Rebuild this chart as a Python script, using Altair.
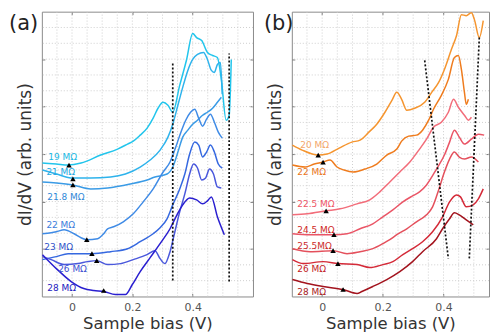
import altair as alt
import pandas as pd

FONT = "DejaVu Sans"

# ---------------- Panel (a) ----------------
A_NAMES = ["19 MΩ", "21 MΩ", "21.8 MΩ", "22 MΩ", "23 MΩ", "26 MΩ", "28 MΩ"]
A_LINE_COLORS = ["#22c5ec", "#2eb3ec", "#3a9be6", "#3f8be6", "#3568e0", "#4a58dc", "#2a1fd0"]
A_LABEL_COLORS = ["#20b8e4", "#22a8e2", "#2f88d8", "#3a7cdc", "#2e50c8", "#3b4dd0", "#2420c0"]

A19_V = [-0.098, -0.052, -0.013, 0.030, 0.095, 0.151, 0.184, 0.203, 0.226, 0.249, 0.269, 0.285, 0.302, 0.318,
         0.334, 0.357, 0.380, 0.400, 0.413, 0.430, 0.449, 0.466, 0.482, 0.495, 0.511, 0.521, 0.528]
A19_Y = [134, 133, 132, 134, 142, 148, 153, 156, 162, 169, 179, 189, 195, 192,
         185, 212, 238, 264, 260, 257, 245, 242, 240, 218, 177, 182, 238]
A21_V = [-0.098, -0.052, -0.003, 0.062, 0.128, 0.177, 0.226, 0.259, 0.292, 0.318, 0.334, 0.351, 0.367, 0.384,
         0.400, 0.416, 0.436, 0.449, 0.462, 0.472, 0.482, 0.492, 0.498]
A21_Y = [127, 123, 119, 119, 120, 123, 130, 137, 147, 160, 173, 192, 210, 227,
         238, 243, 245, 238, 227, 225, 233, 235, 203]
A218_V = [-0.098, -0.052, 0.003, 0.062, 0.118, 0.193, 0.249, 0.275, 0.315, 0.334, 0.351, 0.367, 0.384, 0.400,
          0.416, 0.433, 0.449, 0.466, 0.482, 0.495]
A218_Y = [115, 114, 112, 108, 109, 113, 117, 120, 123, 130, 145, 160, 167, 173,
          177, 182, 185, 189, 195, 200]
A22_V = [-0.098, -0.069, -0.052, -0.026, 0.007, 0.030, 0.049, 0.085, 0.105, 0.118, 0.138, 0.170, 0.203, 0.236,
         0.269, 0.302, 0.325, 0.344, 0.361, 0.377, 0.393, 0.407, 0.420, 0.433, 0.446, 0.459, 0.472, 0.485, 0.498]
A22_Y = [63, 64, 65, 67, 63, 59, 57, 58, 63, 68, 70, 75, 83, 95,
         108, 125, 135, 150, 165, 177, 185, 188, 179, 171, 178, 183, 175, 165, 159]
A23_V = [-0.098, -0.052, -0.013, 0.066, 0.128, 0.184, 0.226, 0.269, 0.292, 0.315, 0.334, 0.357, 0.374, 0.390,
         0.407, 0.420, 0.433, 0.446, 0.459, 0.472, 0.485, 0.498]
A23_Y = [37, 40, 43, 43, 45, 48, 55, 63, 69, 78, 92, 108, 123, 143,
         155, 152, 140, 145, 152, 145, 133, 129]
A26_V = [-0.098, -0.069, -0.026, 0.020, 0.052, 0.082, 0.118, 0.161, 0.203, 0.249, 0.275, 0.292, 0.308, 0.325,
         0.341, 0.357, 0.374, 0.390, 0.403, 0.416, 0.430, 0.443, 0.456, 0.469, 0.482, 0.495]
A26_Y = [40, 37, 32, 33, 35, 36, 32, 33, 37, 42, 46, 38, 33, 45,
         65, 85, 103, 123, 133, 129, 117, 119, 128, 123, 110, 109]
A28_V = [-0.098, -0.052, -0.003, 0.039, 0.072, 0.105, 0.144, 0.177, 0.200, 0.226, 0.259, 0.292, 0.325, 0.348,
         0.367, 0.390, 0.413, 0.433, 0.449, 0.462, 0.482, 0.505]
A28_Y = [42, 28, 15, 8, 6, 5, 2, 2, 12, 25, 39, 53, 68, 82,
         92, 99, 97, 93, 96, 100, 80, 62]

A_TRI_V = [-0.010, 0.003, 0.003, 0.049, 0.066, 0.082, 0.105]
A_TRI_Y = [132, 118, 112, 57, 43, 36, 6]
A_LAB_V = [-0.079, -0.085, -0.082, -0.085, -0.092, -0.046, -0.082]
A_LAB_Y = [140, 125, 100, 72, 50, 28, 8]
A_DASH_V0 = [0.334, 0.521]
A_DASH_V1 = [0.334, 0.521]
A_DASH_Y0 = [16, 15]
A_DASH_Y1 = [234, 244]

# ---------------- Panel (b) ----------------
B_NAMES = ["20 MΩ", "22 MΩ", "22.5 MΩ", "24.5 MΩ", "25.5MΩ", "26 MΩ", "28 MΩ"]
B_LINE_COLORS = ["#f5952f", "#ef7c1e", "#f26d7a", "#ea5566", "#e4505c", "#d42a38", "#a3141e"]
B_LABEL_COLORS = ["#f4a76a", "#ea7418", "#ef5565", "#cf1f24", "#cc2a2a", "#c21a1e", "#a81a1a"]

B20_V = [-0.098, -0.066, -0.013, 0.016, 0.056, 0.098, 0.125, 0.154, 0.180, 0.207, 0.230, 0.246, 0.262, 0.279,
         0.305, 0.338, 0.361, 0.384, 0.403, 0.426, 0.443, 0.459, 0.475, 0.492, 0.502, 0.518, 0.531]
B20_Y = [152, 147, 142, 143, 149, 155, 157, 165, 173, 185, 197, 205, 198, 187,
         189, 195, 205, 215, 228, 248, 262, 283, 282, 285, 278, 260, 277]
B22_V = [-0.098, -0.056, -0.026, 0.003, 0.026, 0.049, 0.072, 0.102, 0.141, 0.180, 0.213, 0.246, 0.262, 0.285,
         0.311, 0.331, 0.351, 0.367, 0.393, 0.416, 0.436, 0.449, 0.459, 0.469, 0.475, 0.482]
B22_Y = [132, 130, 133, 135, 137, 130, 127, 125, 128, 133, 142, 148, 156, 161,
         162, 167, 177, 188, 202, 218, 240, 242, 228, 205, 193, 198]
B225_V = [-0.098, -0.049, 0.013, 0.059, 0.115, 0.157, 0.190, 0.223, 0.256, 0.289, 0.321, 0.344, 0.367, 0.393,
          0.416, 0.433, 0.449, 0.469, 0.482, 0.492]
B225_Y = [82, 83, 86, 88, 93, 97, 105, 115, 125, 135, 148, 158, 170, 175,
          185, 198, 190, 182, 177, 180]
B245_V = [-0.098, -0.039, 0.039, 0.082, 0.125, 0.167, 0.200, 0.233, 0.266, 0.298, 0.321, 0.344, 0.377, 0.403,
          0.420, 0.436, 0.452, 0.469, 0.492, 0.515, 0.534]
B245_Y = [63, 62, 62, 63, 68, 73, 80, 87, 95, 101, 105, 112, 128, 142,
          155, 167, 160, 153, 158, 163, 162]
B255_V = [-0.098, -0.039, 0.036, 0.082, 0.125, 0.167, 0.200, 0.223, 0.246, 0.279, 0.311, 0.344, 0.364, 0.384,
          0.403, 0.420, 0.436, 0.452, 0.469, 0.492, 0.515]
B255_Y = [48, 45, 46, 43, 45, 48, 53, 57, 62, 68, 75, 82, 90, 107,
          125, 138, 145, 140, 138, 140, 135]
B26_V = [-0.098, -0.062, 0.003, 0.052, 0.115, 0.157, 0.200, 0.233, 0.266, 0.298, 0.331, 0.364, 0.397, 0.420,
         0.443, 0.456, 0.475, 0.498, 0.515, 0.531]
B26_Y = [37, 33, 35, 33, 32, 29, 32, 35, 42, 48, 55, 65, 80, 95,
         102, 100, 90, 92, 98, 108]
B28_V = [-0.098, -0.049, 0.003, 0.069, 0.115, 0.131, 0.167, 0.213, 0.256, 0.298, 0.331, 0.377, 0.397, 0.420,
         0.436, 0.452, 0.475, 0.498]
B28_Y = [17, 13, 10, 7, 3, 5, 10, 17, 25, 35, 45, 58, 68, 78,
         84, 82, 77, 72]

B_TRI_V = [-0.013, 0.003, 0.013, 0.039, 0.036, 0.052, 0.069]
B_TRI_Y = [142, 135, 86, 62, 46, 33, 7]
B_LAB_V = [-0.072, -0.082, -0.082, -0.082, -0.082, -0.082, -0.082]
B_LAB_Y = [152, 125, 93, 67, 51, 28, 4]
B_DASH_V0 = [0.338, 0.518]
B_DASH_V1 = [0.416, 0.485]
B_DASH_Y0 = [237, 260]
B_DASH_Y1 = [38, 38]

# ---------------- axes / grid ----------------
X_TICKS = [0, 0.2, 0.4]
Y_DOMAIN = [0, 286]
Y_MAJOR = [47.67, 95.33, 143.0, 190.67, 238.33]
Y_GRID = [15.89, 31.78, 47.67, 63.56, 79.44, 95.33, 111.22, 127.11, 143.0, 158.89,
          174.78, 190.67, 206.56, 222.44, 238.33, 254.22, 270.11]
A_GRID_X = [-0.05, 0.0, 0.05, 0.1, 0.15, 0.2, 0.25, 0.3, 0.35, 0.4, 0.45, 0.5, 0.55]
B_GRID_X = [-0.05, 0.0, 0.05, 0.1, 0.15, 0.2, 0.25, 0.3, 0.35, 0.4, 0.45, 0.5]

HEIGHT = 286
TICK_COLOR = "#777777"


def curves_df(names, colors, vs, ys):
    rows = []
    for n, c, v, y in zip(names, colors, vs, ys):
        for a, b in zip(v, y):
            rows.append({"s": n, "c": c, "v": a, "y": b})
    return pd.DataFrame(rows)


def panel(letter, letter_x, xdom, width, cdf, tri_v, tri_y, lab_v, lab_y, names, lab_colors,
          d_v0, d_v1, d_y0, d_y1, grid_x):
    xs = alt.Scale(domain=xdom, nice=False, zero=False)
    ys = alt.Scale(domain=Y_DOMAIN, nice=False, zero=False)

    grid_style = dict(color="#cfcfcf", strokeDash=[1, 2], strokeWidth=1)
    gx = alt.Chart(pd.DataFrame({"g": grid_x})).mark_rule(**grid_style).encode(
        x=alt.X("g:Q", scale=xs, axis=None))
    gy = alt.Chart(pd.DataFrame({"g": Y_GRID})).mark_rule(**grid_style).encode(
        y=alt.Y("g:Q", scale=ys, axis=None))

    bottom_axis = alt.Axis(orient="bottom", values=X_TICKS, format=".1~f", tickSize=3, offset=-3,
                           domain=False, grid=False, tickColor=TICK_COLOR,
                           labelFont=FONT, labelFontSize=11, labelColor="#555555", labelPadding=5,
                           title="Sample bias (V)", titleFont=FONT, titleFontSize=16.5,
                           titleFontWeight="normal", titleColor="#333333", titlePadding=3)
    left_axis = alt.Axis(orient="left", values=Y_MAJOR, tickSize=3, offset=-3, labels=False,
                         domain=False, grid=False, tickColor=TICK_COLOR,
                         title="dI/dV (arb. units)", titleFont=FONT, titleFontSize=17,
                         titleFontWeight="normal", titleColor="#333333", titleX=-10)
    top_axis = alt.Axis(orient="top", values=X_TICKS, tickSize=3, offset=-3, labels=False,
                        domain=False, grid=False, tickColor=TICK_COLOR, title=None)
    right_axis = alt.Axis(orient="right", values=Y_MAJOR, tickSize=3, offset=-3, labels=False,
                          domain=False, grid=False, tickColor=TICK_COLOR, title=None)

    lines = alt.Chart(cdf).mark_line(strokeWidth=1.5, interpolate="monotone").encode(
        x=alt.X("v:Q", scale=xs, axis=bottom_axis),
        y=alt.Y("y:Q", scale=ys, axis=left_axis),
        color=alt.Color("c:N", scale=None),
        detail="s:N",
    )

    ddf = pd.DataFrame({"v0": d_v0, "v1": d_v1, "y0": d_y0, "y1": d_y1})
    dashes = alt.Chart(ddf).mark_rule(color="#111111", strokeDash=[2, 2], strokeWidth=1.7).encode(
        x=alt.X("v0:Q", scale=xs, axis=top_axis),
        x2="v1:Q",
        y=alt.Y("y0:Q", scale=ys, axis=right_axis),
        y2="y1:Q",
    )

    tdf = pd.DataFrame({"v": tri_v, "y": tri_y})
    tris = alt.Chart(tdf).mark_point(shape="triangle-up", filled=True, color="#000000",
                                     size=30, opacity=1).encode(
        x=alt.X("v:Q", scale=xs, axis=None),
        y=alt.Y("y:Q", scale=ys, axis=None),
    )

    ldf = pd.DataFrame({"v": lab_v, "y": lab_y, "t": names, "c": lab_colors})
    labels = alt.Chart(ldf).mark_text(align="left", baseline="middle", font=FONT, fontSize=9).encode(
        x=alt.X("v:Q", scale=xs, axis=None),
        y=alt.Y("y:Q", scale=ys, axis=None),
        text="t:N",
        color=alt.Color("c:N", scale=None),
    )

    let = alt.Chart(pd.DataFrame({"t": [letter]})).mark_text(
        align="left", baseline="alphabetic", font=FONT, fontSize=21, color="#222222").encode(
        x=alt.value(letter_x), y=alt.value(18), text="t:N")

    return alt.layer(gx, gy, lines, dashes, tris, labels, let).resolve_axis(
        x="independent", y="independent").properties(width=width, height=HEIGHT)


A_DF = curves_df(A_NAMES, A_LINE_COLORS,
                 [A19_V, A21_V, A218_V, A22_V, A23_V, A26_V, A28_V],
                 [A19_Y, A21_Y, A218_Y, A22_Y, A23_Y, A26_Y, A28_Y])
B_DF = curves_df(B_NAMES, B_LINE_COLORS,
                 [B20_V, B22_V, B225_V, B245_V, B255_V, B26_V, B28_V],
                 [B20_Y, B22_Y, B225_Y, B245_Y, B255_Y, B26_Y, B28_Y])

pa = panel("(a)", -33, [-0.1, 0.6], 212, A_DF, A_TRI_V, A_TRI_Y, A_LAB_V, A_LAB_Y, A_NAMES, A_LABEL_COLORS,
           A_DASH_V0, A_DASH_V1, A_DASH_Y0, A_DASH_Y1, A_GRID_X)
pb = panel("(b)", -28, [-0.1, 0.55], 198, B_DF, B_TRI_V, B_TRI_Y, B_LAB_V, B_LAB_Y, B_NAMES, B_LABEL_COLORS,
           B_DASH_V0, B_DASH_V1, B_DASH_Y0, B_DASH_Y1, B_GRID_X)

chart = alt.hconcat(pa, pb, spacing=9).properties(
    padding={"left": 0, "top": 0, "right": 0, "bottom": 0},
    background="white",
).configure_view(stroke="#8a8a8a", strokeWidth=1)

chart.save("out.html", embed_options={"renderer": "svg", "actions": False})
